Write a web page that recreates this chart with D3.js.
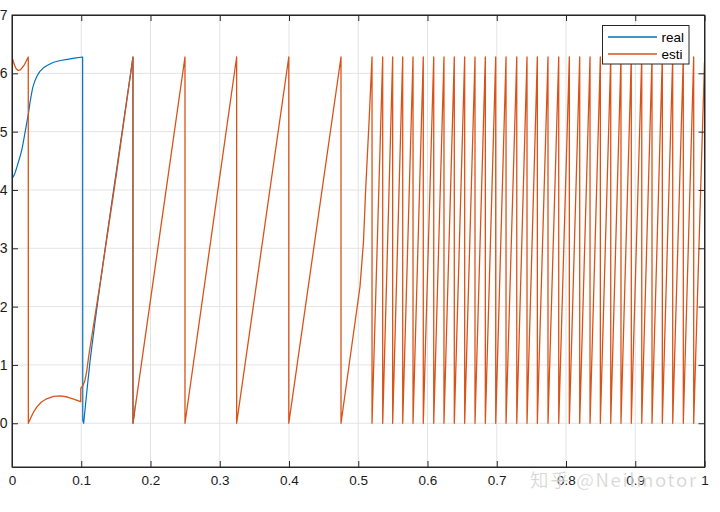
<!DOCTYPE html>
<html>
<head>
<meta charset="utf-8">
<script src="https://cdn.jsdelivr.net/npm/d3@7"></script>
<style>
  html, body { margin: 0; padding: 0; background: #ffffff; }
  svg { display: block; }
</style>
</head>
<body>
<svg id="chart" width="720" height="512"></svg>
<script>
// ---------------- data ----------------
const xTicks = [0, 0.1, 0.2, 0.3, 0.4, 0.5, 0.6, 0.7, 0.8, 0.9, 1];
const xTickLabels = ["0", "0.1", "0.2", "0.3", "0.4", "0.5", "0.6", "0.7", "0.8", "0.9", "1"];
const yTicks = [0, 1, 2, 3, 4, 5, 6, 7];
const yTickLabels = ["0", "1", "2", "3", "4", "5", "6", "7"];
const seriesNames = ["real", "esti"];

// "real" before the two traces merge
const realStartT = [0, 0.002, 0.004, 0.006, 0.008, 0.010, 0.012, 0.014, 0.016, 0.018, 0.020, 0.022, 0.024,
                    0.026, 0.028, 0.030, 0.033, 0.036, 0.040, 0.045, 0.050, 0.060, 0.070, 0.080, 0.090, 0.102,
                    0.1022, 0.1035, 0.106, 0.109, 0.113, 0.12, 0.128, 0.1375];
const realStartV = [4.2, 4.23, 4.28, 4.35, 4.43, 4.51, 4.59, 4.68, 4.8, 4.93, 5.06, 5.2, 5.33,
                    5.5, 5.64, 5.76, 5.87, 5.95, 6.03, 6.09, 6.13, 6.19, 6.22, 6.24, 6.26, 6.28,
                    0.05, 0.0, 0.3, 0.65, 1.1, 1.75, 2.45, 3.25];

// "esti" before the two traces merge
const estiStartT = [0, 0.002, 0.004, 0.006, 0.009, 0.012, 0.015, 0.018, 0.021, 0.0235, 0.0236, 0.027, 0.031,
                    0.036, 0.042, 0.05, 0.06, 0.07, 0.08, 0.09, 0.0992, 0.0994, 0.102, 0.105, 0.108, 0.111,
                    0.1295, 0.151];
const estiStartV = [6.28, 6.2, 6.13, 6.08, 6.05, 6.06, 6.1, 6.15, 6.22, 6.28, 0.0, 0.09, 0.19,
                    0.28, 0.36, 0.42, 0.46, 0.47, 0.45, 0.41, 0.37, 0.6, 0.64, 0.72, 0.9, 1.17,
                    2.57, 4.29];

// times where the angle wraps from its peak back to 0 (shared by both traces)
const wrapTimes = [0.1747, 0.2498, 0.3244, 0.3997, 0.4751, 0.5199, 0.5353, 0.5497, 0.5642, 0.5791,
                   0.5939, 0.6090, 0.6238, 0.6387, 0.6537, 0.6686, 0.6835, 0.6985, 0.7134, 0.7289,
                   0.7437, 0.7586, 0.7740, 0.7895, 0.8048, 0.8198, 0.8347, 0.8496, 0.8646, 0.8794,
                   0.8943, 0.9094, 0.9242, 0.9391, 0.9541, 0.9694, 0.9844];
const peakValue = 6.28;
// bent ramp between the wraps at 0.4751 and 0.5199
const bendAfter = 0.4751;
const bendT = [0.5025, 0.5075, 0.5107, 0.5155];
const bendV = [2.34, 3.1, 4.0, 5.15];
const endT = 1.0, endV = 6.2;
// after this time "real" lies exactly under "esti"
const mergeT = 0.178;

// ---------------- build point lists ----------------
function tail() {
  const pts = [];
  wrapTimes.forEach(w => {
    pts.push([w, peakValue]);
    pts.push([w, 0]);
    if (w === bendAfter) bendT.forEach((t, i) => pts.push([t, bendV[i]]));
  });
  pts.push([endT, endV]);
  return pts;
}
const realPts = realStartT.map((t, i) => [t, realStartV[i]]).concat(tail());
const estiPts = estiStartT.map((t, i) => [t, estiStartV[i]]).concat(tail());

// ---------------- layout ----------------
const svg = d3.select("#chart");
const L = 12, R = 704.5, T = 15, B = 467;
const x = d3.scaleLinear().domain([0, 1]).range([L, R]);
const y = d3.scaleLinear().domain([-0.75, 7]).range([B, T]);
const colors = ["#0072BD", "#D95319"];
const widths = [1.2, 1.3];
const axisColor = "#262626";
const font = "'Liberation Sans', Arial, Helvetica, sans-serif";

// grid
const grid = svg.append("g");
grid.selectAll(".gx").data(xTicks).enter().append("line")
  .attr("x1", d => x(d)).attr("x2", d => x(d)).attr("y1", T).attr("y2", B)
  .attr("stroke", "#e3e3e3").attr("stroke-width", 1);
grid.selectAll(".gy").data(yTicks).enter().append("line")
  .attr("x1", L).attr("x2", R).attr("y1", d => y(d)).attr("y2", d => y(d))
  .attr("stroke", "#e3e3e3").attr("stroke-width", 1);

// lines
const line = d3.line().x(d => x(d[0])).y(d => y(d[1]));
const defs = svg.append("defs");
defs.append("clipPath").attr("id", "clip").append("rect")
  .attr("x", L).attr("y", T).attr("width", R - L).attr("height", B - T);
// "real" is hidden under "esti" after merging; clip it there to avoid colour fringes
defs.append("clipPath").attr("id", "clipReal").append("rect")
  .attr("x", L).attr("y", T).attr("width", x(mergeT) - L).attr("height", B - T);
[realPts, estiPts].forEach((pts, i) => {
  svg.append("path").datum(pts)
    .attr("d", line)
    .attr("fill", "none")
    .attr("stroke", colors[i])
    .attr("stroke-width", widths[i])
    .attr("stroke-linejoin", "round")
    .attr("clip-path", i === 0 ? "url(#clipReal)" : "url(#clip)");
});

// axes (box with inward ticks)
const tl = 6;
const axisBottom = d3.axisBottom(x).tickValues(xTicks).tickSizeInner(-tl).tickSizeOuter(0)
  .tickFormat((d, i) => xTickLabels[i]).tickPadding(10);
const gxA = svg.append("g").attr("transform", `translate(0,${B})`).call(axisBottom);
const axisTop = d3.axisTop(x).tickValues(xTicks).tickSizeInner(-tl).tickSizeOuter(0).tickFormat("");
const gxT = svg.append("g").attr("transform", `translate(0,${T})`).call(axisTop);
const axisLeft = d3.axisLeft(y).tickValues(yTicks).tickSizeInner(-tl).tickSizeOuter(0)
  .tickFormat((d, i) => yTickLabels[i]).tickPadding(10);
const gyA = svg.append("g").attr("transform", `translate(${L},0)`).call(axisLeft);
const axisRight = d3.axisRight(y).tickValues(yTicks).tickSizeInner(-tl).tickSizeOuter(0).tickFormat("");
const gyR = svg.append("g").attr("transform", `translate(${R},0)`).call(axisRight);
[gxA, gxT, gyA, gyR].forEach(g => {
  g.select(".domain").attr("stroke", axisColor).attr("stroke-width", 1);
  g.selectAll(".tick line").attr("stroke", axisColor).attr("stroke-width", 1);
  g.selectAll("text").attr("fill", "#1a1a1a").style("font-family", font).style("font-size", "13.5px");
});
gxA.selectAll("text").attr("dy", "0.71em").attr("y", 8);
gyA.selectAll("text").attr("x", -4.5).style("font-size", "14px");
svg.append("rect").attr("x", L).attr("y", T).attr("width", R - L).attr("height", B - T)
  .attr("fill", "none").attr("stroke", axisColor).attr("stroke-width", 1);

// legend
const lg = svg.append("g");
lg.append("rect").attr("x", 602.5).attr("y", 25.5).attr("width", 86.5).attr("height", 38.5)
  .attr("fill", "#ffffff").attr("stroke", axisColor).attr("stroke-width", 1);
seriesNames.forEach((name, i) => {
  const yy = 37 + i * 17;
  lg.append("line").attr("x1", 608).attr("x2", 657).attr("y1", yy).attr("y2", yy)
    .attr("stroke", colors[i]).attr("stroke-width", 1.3);
  lg.append("text").attr("x", 661.5).attr("y", yy + 4.8).text(name)
    .attr("fill", "#000").style("font-family", font).style("font-size", "13.5px");
});

// watermark
svg.append("text").attr("x", 530).attr("y", 487)
  .style("font-family", "'Noto Sans CJK SC', 'Noto Sans', sans-serif").style("font-size", "18.5px")
  .style("letter-spacing", "1.7px")
  .attr("fill", "#c2c2c2").attr("fill-opacity", 0.8)
  .attr("stroke", "#ffffff").attr("stroke-width", 0.6).attr("stroke-opacity", 0.6)
  .text("知乎 @Neilmotor");
</script>
</body>
</html>
